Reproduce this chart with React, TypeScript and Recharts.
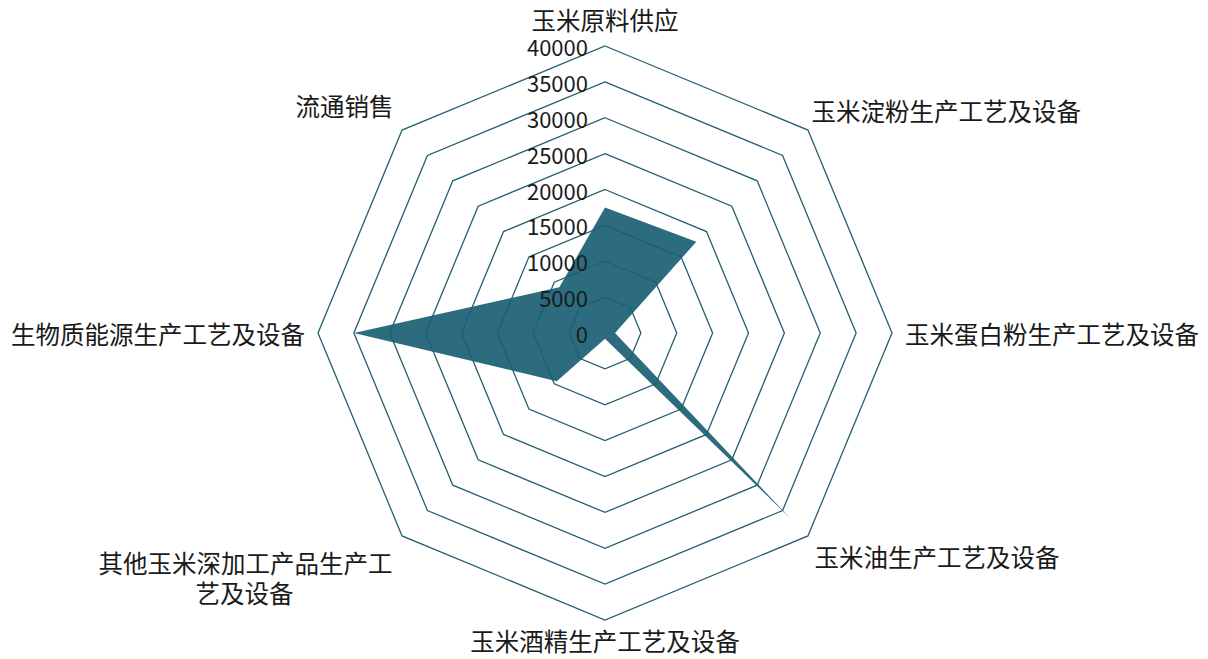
import React from 'react';
import { RadarChart, Radar, PolarGrid, PolarAngleAxis, PolarRadiusAxis } from 'recharts';

const categories = [
  '玉米原料供应',
  '玉米淀粉生产工艺及设备',
  '玉米蛋白粉生产工艺及设备',
  '玉米油生产工艺及设备',
  '玉米酒精生产工艺及设备',
  '其他玉米深加工产品生产工艺及设备',
  '生物质能源生产工艺及设备',
  '流通销售',
];

const values = [17500, 18000, 1400, 36500, 800, 9500, 35000, 9000];

const radiusTicks = [0, 5000, 10000, 15000, 20000, 25000, 30000, 35000, 40000];

// the long south-west label wraps in two lines
const wrappedLines: Record<string, string[]> = {
  '其他玉米深加工产品生产工艺及设备': ['其他玉米深加工产品生产工', '艺及设备'],
};

const data = categories.map((name, i) => ({ name, value: values[i] }));

const FONT = '"Noto Sans CJK SC", "Noto Sans", sans-serif';
const GRID = '#22606f';
const FILL = '#1a5f73';

// label offsets from the point recharts gives, per direction (clockwise from top)
const labelShift = [
  { dx: 0, dy: -19 },
  { dx: -2, dy: -14 },
  { dx: 5, dy: 0 },
  { dx: 1, dy: 15 },
  { dx: 0, dy: 12 },
  { dx: -4, dy: 20 },
  { dx: -5, dy: 0 },
  { dx: -3, dy: -19 },
];

function AngleTick(props: any) {
  const { x, y, payload, textAnchor, index } = props;
  const shift = labelShift[index] || { dx: 0, dy: 0 };
  const lines = wrappedLines[payload.value];
  if (lines) {
    return (
      <text x={x + shift.dx} y={y + shift.dy} fontSize={24.5} fontFamily={FONT} fill="#1a1a1a" dominantBaseline="central">
        <tspan x={x + shift.dx} textAnchor="end">{lines[0]}</tspan>
        <tspan x={x + shift.dx - 148} dy={30} textAnchor="middle">{lines[1]}</tspan>
      </text>
    );
  }
  return (
    <text x={x + shift.dx} y={y + shift.dy} textAnchor={textAnchor} dominantBaseline="central"
      fontSize={24.5} fontFamily={FONT} fill="#1a1a1a">
      {payload.value}
    </text>
  );
}

function RadiusTick(props: any) {
  const { x, y, payload } = props;
  return (
    <text x={x - 17} y={y} textAnchor="end" dominantBaseline="central"
      fontSize={22} fontFamily={FONT} fill="#1a1a1a">
      {payload.value}
    </text>
  );
}

export default function App() {
  return (
    <div style={{ position: 'absolute', left: 0, top: 0, width: 1208, height: 659, background: '#fff' }}>
      <RadarChart width={1208} height={659} data={data} cx={605} cy={333} outerRadius={287}
        margin={{ top: 0, right: 0, bottom: 0, left: 0 }}>
        <PolarGrid gridType="polygon" radialLines={false} stroke={GRID} strokeWidth={1.3} />
        <PolarAngleAxis dataKey="name" tick={<AngleTick />} tickLine={false} axisLine={false} />
        <Radar dataKey="value" fill={FILL} fillOpacity={0.92} stroke="none"
          isAnimationActive={false} />
        <PolarRadiusAxis angle={90} type="number" domain={[0, 40000]} ticks={radiusTicks} tickCount={9}
          tick={<RadiusTick />} tickLine={false} axisLine={false} />
      </RadarChart>
    </div>
  );
}
